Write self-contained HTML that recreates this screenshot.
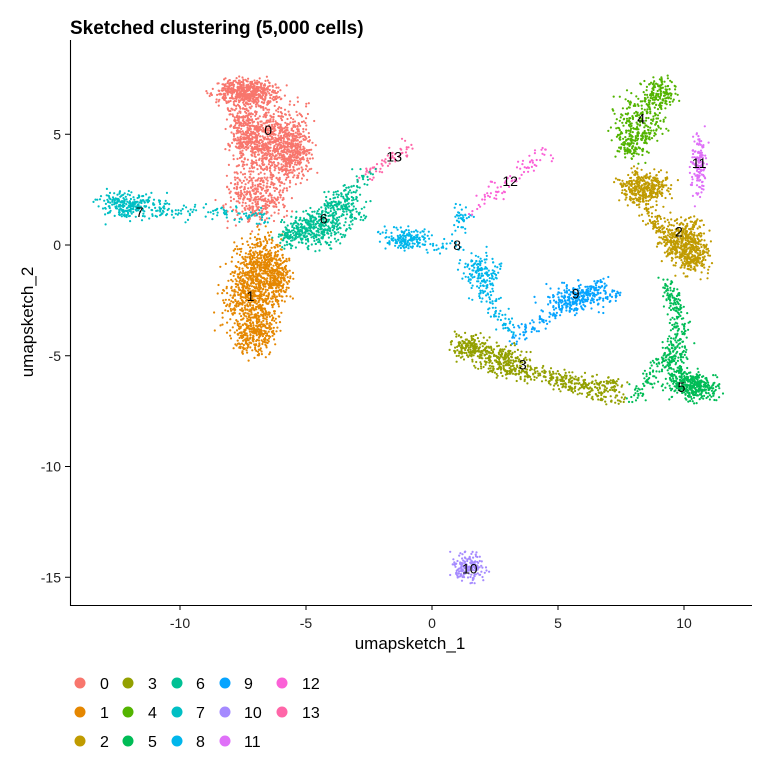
<!DOCTYPE html>
<html><head><meta charset="utf-8"><style>
body{margin:0;background:#fff;}
svg{display:block;font-family:"Liberation Sans",Arial,sans-serif;}
</style></head><body>
<svg id="chart" width="768" height="768" viewBox="0 0 768 768">
<rect width="768" height="768" fill="#fff"/>
<text x="70" y="34" font-size="19" font-weight="bold" fill="#000">Sketched clustering (5,000 cells)</text>
<g id="points"></g>
<g id="labels"></g>
<g id="axes"></g>
<g id="legend"></g>
</svg>
<script>
const clusterIds=[0,1,2,3,4,5,6,7,8,9,10,11,12,13];
const clusterColors=["#F8766D","#E58700","#C09B00","#93A000","#53B400","#00BC56","#00C094","#00BFC4","#00B6EB","#06A4FF","#A58AFF","#DF70F8","#FB61D7","#FF66A8"];
// blobs: cluster, centre x, centre y, spread x, spread y, count
const blobCluster=[0,0,0,0,0, 1,1,1,1, 2,2,2, 3,3, 4,4,4, 5,5, 6,6,6, 7, 8,8,8, 9, 10, 11];
const blobX=[-7.4,-6.4,-6.9,-5.4,-7.4, -6.8,-7.2,-7.0,-6.2, 10.0,8.5,10.4, 1.6,2.8, 8.3,9.0,7.8, 10.4,9.7, -4.6,-3.5,-5.6, -12.0, -1.0,2.0,1.2, 5.7, 1.4, 10.6];
const blobY=[6.9,4.6,2.2,4.2,5.2, -0.8,-2.4,-4.0,-1.5, 0.2,2.6,-0.6, -4.6,-5.2, 5.5,6.9,4.5, -6.4,-5.4, 0.7,1.7,0.5, 1.8, 0.3,-1.4,1.2, -2.4, -14.5, 3.6];
const blobSX=[1.0,1.1,1.0,0.6,0.6, 0.8,0.9,0.7,0.5, 0.7,0.8,0.5, 0.6,0.8, 0.8,0.6,0.5, 0.8,0.4, 0.9,0.7,0.5, 1.0, 0.6,0.6,0.3, 1.0, 0.5, 0.25];
const blobSY=[0.5,1.4,1.0,1.0,1.0, 1.0,1.1,0.8,0.8, 0.8,0.6,0.6, 0.5,0.5, 1.0,0.6,0.6, 0.5,0.8, 0.7,0.6,0.5, 0.5, 0.4,0.8,0.5, 0.6, 0.5, 1.2];
const blobN=[550,750,350,250,250, 400,500,300,200, 380,300,150, 200,200, 250,150,100, 340,120, 280,150,80, 260, 120,120,40, 150, 160, 150];
// segments: cluster, x1, y1, x2, y2, count
const segCluster=[12,13,6,8,8,5,5,3,3,7,9,9,2];
const segX1=[1.6,-2.8,-5.5,-2.0,1.5,9.3,9.9,2.5,5.0,-11.0,3.2,5.0,7.5];
const segY1=[1.6,3.0,0.2,0.4,-0.6,-1.6,-4.0,-5.6,-6.2,1.6,-4.2,-2.4,3.0];
const segX2=[4.6,-0.8,-2.5,1.0,3.0,10.0,8.0,7.5,7.5,-6.5,7.0,7.5,10.2];
const segY2=[4.3,4.6,3.3,-0.2,-4.0,-4.2,-7.0,-6.4,-7.0,1.3,-1.6,-2.2,-1.0];
const segN=[80,60,120,80,110,140,120,260,120,110,150,80,200];
const labelText=["0","1","2","3","4","5","6","7","8","9","10","11","12","13"];
const labelX=[-6.5,-7.2,9.8,3.6,8.3,9.9,-4.3,-11.6,1.0,5.7,1.5,10.6,3.1,-1.5];
const labelY=[5.2,-2.3,0.6,-5.4,5.7,-6.4,1.2,1.5,0.0,-2.2,-14.6,3.7,2.9,4.0];
const xTicks=[-10,-5,0,5,10];
const yTicks=[5,0,-5,-10,-15];

const X=v=>432+v*25.2;
const Y=v=>245-v*22.15;
const NS="http://www.w3.org/2000/svg";
let seed=12345;
function rnd(){seed|=0;seed=seed+0x6D2B79F5|0;let t=Math.imul(seed^seed>>>15,1|seed);t=t+Math.imul(t^t>>>7,61|t)^t;return((t^t>>>14)>>>0)/4294967296;}
function gauss(){return (rnd()+rnd()+rnd()-1.5)*1.2;}
const pts=document.getElementById('points');
let html='';
for(let i=0;i<blobCluster.length;i++){
  const col=clusterColors[blobCluster[i]];
  for(let k=0;k<blobN[i];k++){
    const x=blobX[i]+gauss()*blobSX[i], y=blobY[i]+gauss()*blobSY[i];
    html+=`<circle cx="${X(x).toFixed(1)}" cy="${Y(y).toFixed(1)}" r="1.1" fill="${col}"/>`;
  }
}
for(let i=0;i<segCluster.length;i++){
  const col=clusterColors[segCluster[i]];
  for(let k=0;k<segN[i];k++){
    const t=rnd();
    const x=segX1[i]+(segX2[i]-segX1[i])*t+gauss()*0.3, y=segY1[i]+(segY2[i]-segY1[i])*t+gauss()*0.3;
    html+=`<circle cx="${X(x).toFixed(1)}" cy="${Y(y).toFixed(1)}" r="1.1" fill="${col}"/>`;
  }
}
pts.innerHTML=html;
const lab=document.getElementById('labels');
labelText.forEach((t,i)=>{
  const e=document.createElementNS(NS,'text');
  e.setAttribute('x',X(labelX[i]));e.setAttribute('y',Y(labelY[i])+5);
  e.setAttribute('text-anchor','middle');e.setAttribute('font-size','14');e.setAttribute('fill','#000');
  
  
  e.textContent=t;lab.appendChild(e);
});
const ax=document.getElementById('axes');
ax.innerHTML=`<line x1="70" y1="605.5" x2="752" y2="605.5" stroke="#000" stroke-width="1.1"/><line x1="70.5" y1="40" x2="70.5" y2="606" stroke="#000" stroke-width="1.1"/>`;
xTicks.forEach(v=>{
  const l=document.createElementNS(NS,'line');
  l.setAttribute('x1',X(v));l.setAttribute('x2',X(v));l.setAttribute('y1',605);l.setAttribute('y2',610);l.setAttribute('stroke','#000');
  
  
  ax.appendChild(l);
  const t=document.createElementNS(NS,'text');
  t.setAttribute('x',X(v));t.setAttribute('y',628);t.setAttribute('text-anchor','middle');t.setAttribute('font-size','14');t.setAttribute('fill','#222');
  
  
  t.textContent=v;ax.appendChild(t);
});
yTicks.forEach(v=>{
  const l=document.createElementNS(NS,'line');
  l.setAttribute('x1',65);l.setAttribute('x2',70);l.setAttribute('y1',Y(v));l.setAttribute('y2',Y(v));l.setAttribute('stroke','#000');
  
  
  ax.appendChild(l);
  const t=document.createElementNS(NS,'text');
  t.setAttribute('x',61);t.setAttribute('y',Y(v)+5);t.setAttribute('text-anchor','end');t.setAttribute('font-size','14');t.setAttribute('fill','#222');
  
  
  t.textContent=v;ax.appendChild(t);
});
const xt=document.createElementNS(NS,'text');
xt.setAttribute('x',410);xt.setAttribute('y',649);xt.setAttribute('text-anchor','middle');xt.setAttribute('font-size','17');


xt.textContent='umapsketch_1';ax.appendChild(xt);
const yt=document.createElementNS(NS,'text');
yt.setAttribute('transform','translate(33,322) rotate(-90)');yt.setAttribute('text-anchor','middle');yt.setAttribute('font-size','17');


yt.textContent='umapsketch_2';ax.appendChild(yt);
const lg=document.getElementById('legend');
const colDot=[80,128,177,225,282], colTxt=[100,148,196,244,302], rowY=[683,712,741];
clusterIds.forEach((c,i)=>{
  const col=Math.floor(i/3), row=i%3;
  const g=document.createElementNS(NS,'g');
  
  
  g.innerHTML=`<circle cx="${colDot[col]}" cy="${rowY[row]}" r="5.5" fill="${clusterColors[c]}"/><text x="${colTxt[col]}" y="${rowY[row]+6}" font-size="16" fill="#000">${c}</text>`;
  lg.appendChild(g);
});
</script>
</body></html>
